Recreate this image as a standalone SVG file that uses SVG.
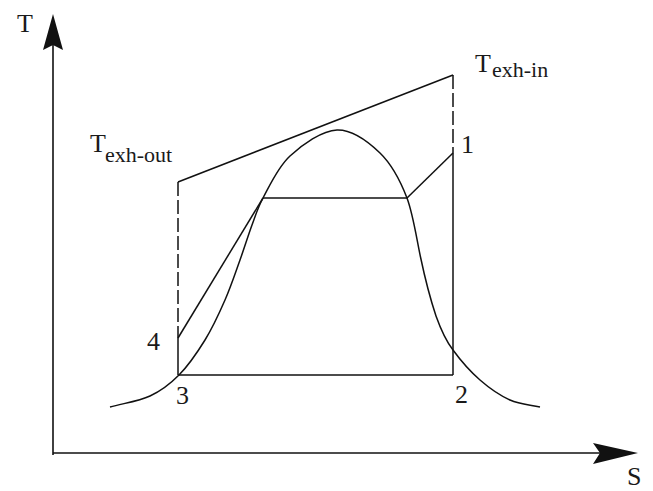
<svg xmlns="http://www.w3.org/2000/svg" width="653" height="491" viewBox="0 0 653 491">
  <style>
    .ln { fill: none; stroke: #111; stroke-width: 1.5; stroke-linecap: butt; stroke-linejoin: round; }
    .dash { stroke-dasharray: 14 4; }
    .ax { fill: none; stroke: #111; stroke-width: 1.6; }
    .head { fill: #111; stroke: none; }
    .lbl { font-family: "Liberation Serif", "Times New Roman", serif; fill: #1a1a1a; font-size: 26px; }
    .sub { font-size: 22px; }
  </style>
  <rect width="653" height="491" fill="#ffffff"/>

  <g id="axes">
    <line class="ax" x1="53" y1="455" x2="53" y2="44"/>
    <line class="ax" x1="53" y1="453" x2="602" y2="453"/>
    <polygon class="head" points="53,14 63,50 53,45 43,50"/>
    <polygon class="head" points="638,453 593,443 600,453 593,464"/>
    <text class="lbl" x="17" y="32">T</text>
    <text class="lbl" x="627" y="485" font-size="25">S</text>
  </g>

  <g id="dome">
    <path class="ln" d="M110,407 C123.3,403.3 138.5,401.3 150,396 C161.5,390.7 169.8,384.3 179,375 C188.2,365.7 197.3,352.5 205,340 C212.7,327.5 219.2,313.3 225,300 C230.8,286.7 235.5,272.5 240,260 C244.5,247.5 248.2,235.3 252,225 C255.8,214.7 257.5,208.5 263,198 C269.3,186.5 277.7,167.3 290,156 C302.3,144.7 322,130.5 337,130 C352,129.5 368.3,141.7 380,153 C391.7,164.3 400.3,180.7 407,198 C413,214 416.5,238 420.5,257 C424.5,276 430,298 436,316 C441,330 446,341 453,350 C459.7,359.2 470.5,371.7 480,380 C489.5,388.3 500,395.5 510,400 C520,404.5 530,404.7 540,407"/>
  </g>

  <g id="connectors">
    <line id="exhaust" class="ln" x1="178" y1="182" x2="453" y2="75"/>
    <line class="ln dash" x1="178" y1="182" x2="178" y2="338"/>
    <line class="ln" x1="178" y1="338" x2="178" y2="375"/>
    <line class="ln dash" x1="453" y1="75" x2="453" y2="153"/>
    <line class="ln" x1="453" y1="153" x2="453" y2="375"/>
    <line class="ln" x1="178" y1="375" x2="453" y2="375"/>
    <line class="ln" x1="178" y1="338" x2="263" y2="198"/>
    <line class="ln" x1="263" y1="198" x2="407" y2="198"/>
    <line class="ln" x1="407" y1="198" x2="453" y2="153"/>
  </g>

  <g id="label-exh-in">
    <text class="lbl" x="475" y="72">T<tspan class="sub" x="492" y="77">exh-in</tspan></text>
  </g>
  <g id="label-exh-out">
    <text class="lbl" x="90" y="152">T<tspan class="sub" x="105" y="162">exh-out</tspan></text>
  </g>
  <g id="point-1"><text class="lbl" x="461" y="153">1</text></g>
  <g id="point-2"><text class="lbl" x="455" y="403">2</text></g>
  <g id="point-3"><text class="lbl" x="176" y="404">3</text></g>
  <g id="point-4"><text class="lbl" x="147" y="350" font-size="25">4</text></g>
</svg>
